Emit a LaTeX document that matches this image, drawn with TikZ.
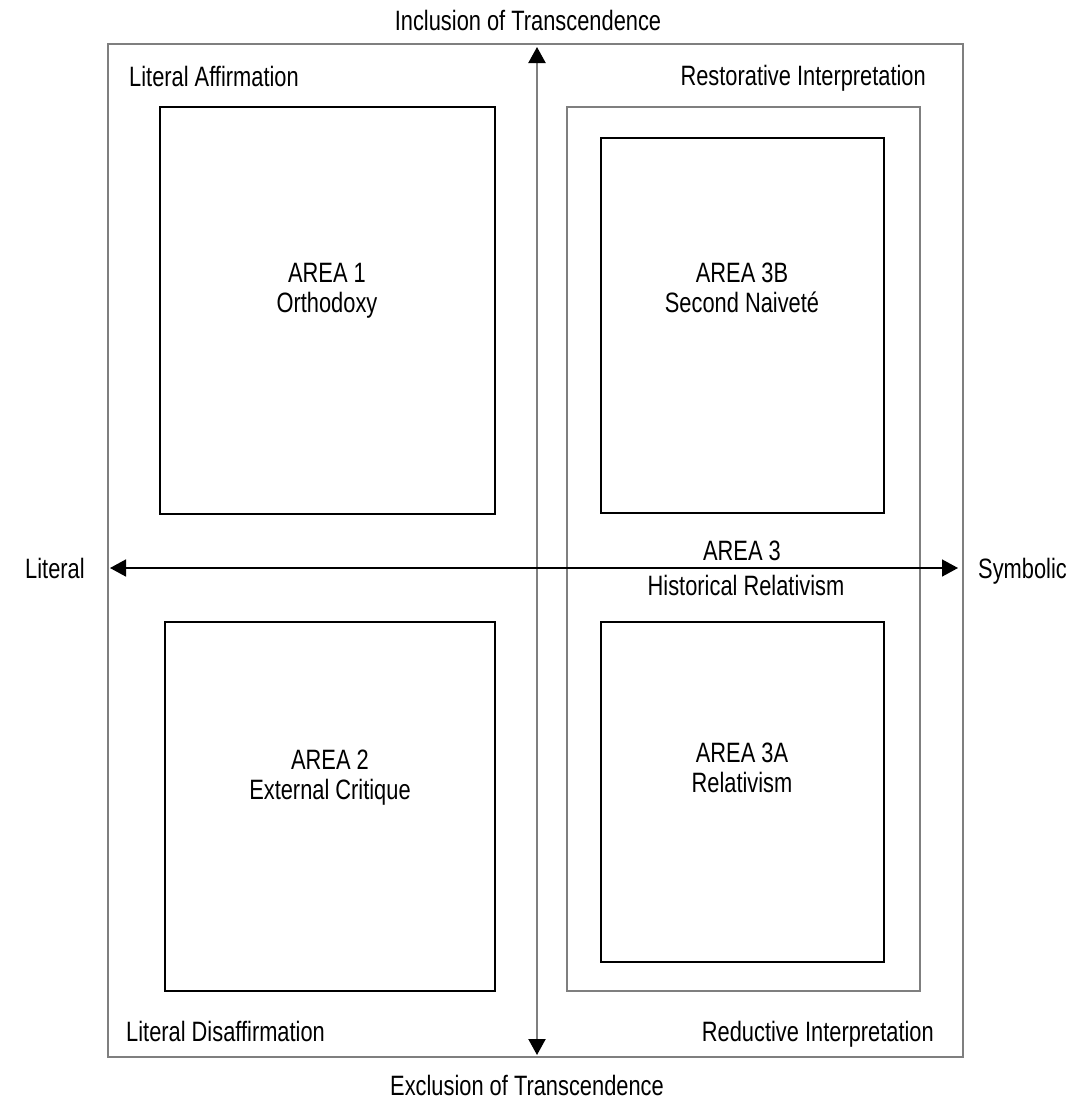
\documentclass[tikz,border=0pt]{standalone}
\usepackage{fontspec}
\setmainfont{Liberation Sans}
\newfontfamily\lblfont[FakeStretch=0.78]{Liberation Sans}
\usetikzlibrary{arrows.meta}
\definecolor{frame}{HTML}{7F7F7F}
\tikzset{
  x=1pt, y=-1pt,
  lbl/.style={font=\lblfont\fontsize{28}{30}\selectfont, inner sep=0pt, align=center},
  areabox/.style={draw=black, line width=1.6pt},
  framebox/.style={draw=frame, line width=1.8pt},
  blk/.tip={Triangle[length=16pt,width=17pt,fill=black,color=black]},
  axis/.style={line width=1.6pt}
}
\begin{document}
\begin{tikzpicture}
\useasboundingbox (0,0) rectangle (1081,1101);
% outer frame
\draw[framebox] (108,44) rectangle (963,1057);
% area boxes
\draw[areabox] (160,107) rectangle (495,514);
\draw[areabox] (165,622) rectangle (495,991);
\draw[framebox] (567,107) rectangle (920,991);
\draw[areabox] (601,138) rectangle (884,513);
\draw[areabox] (601,622) rectangle (884,962);
% axes
\coordinate (top) at (537,47);
\coordinate (bot) at (537,1055);
\coordinate (lft) at (110,568);
\coordinate (rgt) at (958,568);
\draw[axis, line width=2.2pt, draw=frame, blk-blk] (top) -- (bot);
\draw[axis, draw=black, blk-blk] (lft) -- (rgt);
% labels
\node[lbl] (inc) at (528,20) {Inclusion of Transcendence};
\node[lbl] (exc) at (527,1085) {Exclusion of Transcendence};
\node[lbl, anchor=west] (la) at (129,76) {Literal Affirmation};
\node[lbl, anchor=east] (ri) at (926,78) {Restorative Interpretation};
\node[lbl, anchor=west] (ld) at (126,1031) {Literal Disaffirmation};
\node[lbl, anchor=east] (rd) at (934,1034) {Reductive Interpretation};
\node[lbl, anchor=west] (lit) at (25,568) {Literal};
\node[lbl, anchor=west] (sym) at (978,571) {Symbolic};
\node[lbl] (a1) at (327,291) {AREA 1\\Orthodoxy};
\node[lbl] (a2) at (330,778) {AREA 2\\External Critique};
\node[lbl] (a3b) at (742,288) {AREA 3B\\Second Naiveté};
\node[lbl] (a3a) at (742,768) {AREA 3A\\Relativism};
\node[lbl] (a3t) at (742,551) {AREA 3};
\node[lbl] (a3u) at (746,585) {Historical Relativism};
\end{tikzpicture}
\end{document}
